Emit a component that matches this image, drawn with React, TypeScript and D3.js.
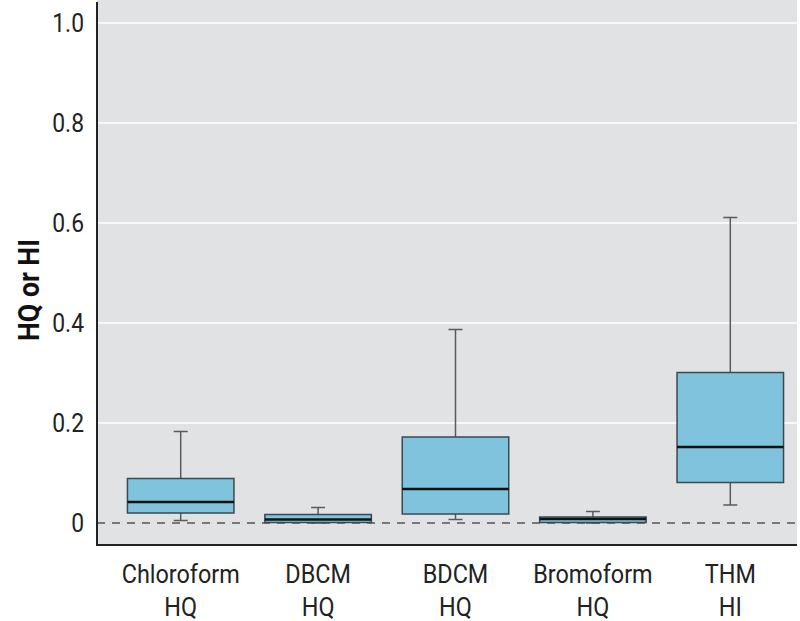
import React from "react";
import * as d3 from "d3";

const categories = ["Chloroform", "DBCM", "BDCM", "Bromoform", "THM"];
const subLabels = ["HQ", "HQ", "HQ", "HQ", "HI"];
const whiskerLow = [0.005, 0.0, 0.007, 0.0, 0.036];
const q1 = [0.02, 0.001, 0.018, 0.001, 0.081];
const median = [0.042, 0.007, 0.068, 0.008, 0.152];
const q3 = [0.089, 0.017, 0.172, 0.012, 0.301];
const whiskerHigh = [0.183, 0.031, 0.387, 0.023, 0.611];
const yTicks = [0, 0.2, 0.4, 0.6, 0.8, 1.0];
const yTickLabels = ["0", "0.2", "0.4", "0.6", "0.8", "1.0"];

const W = 800;
const H = 621;
const left = 97;
const right = 797;
const top = 0;
const bottom = 545;
const font = "Roboto, 'Liberation Sans', sans-serif";

export default function App() {
  const y = d3.scaleLinear().domain([-0.044, 1.046]).range([bottom, top]);
  const x = d3
    .scaleBand<string>()
    .domain(categories)
    .range([112, 799])
    .paddingInner(0.225)
    .paddingOuter(0.1125);
  const bw = x.bandwidth();
  const cap = 7;

  return (
    <svg width={W} height={H} style={{ position: "absolute", left: 0, top: 0 }}>
      <rect x={left} y={top} width={right - left} height={bottom - top} fill="#e1e2e4" />
      {yTicks.filter((t) => t > 0).map((t) => (
        <line key={t} x1={left} x2={right} y1={y(t)} y2={y(t)} stroke="#ffffff" strokeWidth={1.6} />
      ))}
      <line x1={left} x2={right} y1={y(0)} y2={y(0)} stroke="#555" strokeWidth={1.3} strokeDasharray="8,7" />
      {categories.map((c, i) => {
        const x0 = x(c)!;
        const cx = x0 + bw / 2;
        return (
          <g key={c}>
            <line x1={cx} x2={cx} y1={y(whiskerHigh[i])} y2={y(q3[i])} stroke="#5a5a5a" strokeWidth={1.5} />
            <line x1={cx} x2={cx} y1={y(q1[i])} y2={y(whiskerLow[i])} stroke="#5a5a5a" strokeWidth={1.5} />
            <line x1={cx - cap} x2={cx + cap} y1={y(whiskerHigh[i])} y2={y(whiskerHigh[i])} stroke="#5a5a5a" strokeWidth={1.5} />
            <line x1={cx - cap} x2={cx + cap} y1={y(whiskerLow[i])} y2={y(whiskerLow[i])} stroke="#5a5a5a" strokeWidth={1.5} />
            <rect
              x={x0}
              y={y(q3[i])}
              width={bw}
              height={y(q1[i]) - y(q3[i])}
              fill="#7fc3dd"
              stroke="#3b4a50"
              strokeWidth={1.5}
            />
            <line x1={x0} x2={x0 + bw} y1={y(median[i])} y2={y(median[i])} stroke="#111" strokeWidth={2.5} />
            <text
              transform={`translate(${cx},583) scale(0.9,1)`}
              textAnchor="middle"
              fontFamily={font}
              fontSize={26}
              fill="#222"
            >
              {c}
            </text>
            <text
              transform={`translate(${cx},616) scale(0.9,1)`}
              textAnchor="middle"
              fontFamily={font}
              fontSize={26}
              fill="#222"
            >
              {subLabels[i]}
            </text>
          </g>
        );
      })}
      <line x1={left} x2={left} y1={2} y2={bottom} stroke="#222" strokeWidth={2} />
      <line x1={left - 1} x2={right} y1={bottom} y2={bottom} stroke="#222" strokeWidth={2} />
      {yTicks.map((t, i) => (
        <text
          key={t}
          transform={`translate(84,${y(t)}) scale(0.88,1)`}
          dy="0.36em"
          textAnchor="end"
          fontFamily={font}
          fontSize={26}
          fill="#222"
        >
          {yTickLabels[i]}
        </text>
      ))}
      <text
        transform={`translate(39, 290) rotate(-90) scale(0.92,1)`}
        textAnchor="middle"
        fontFamily={font}
        fontWeight="bold"
        fontSize={29}
        fill="#111"
      >
        HQ or HI
      </text>
    </svg>
  );
}
